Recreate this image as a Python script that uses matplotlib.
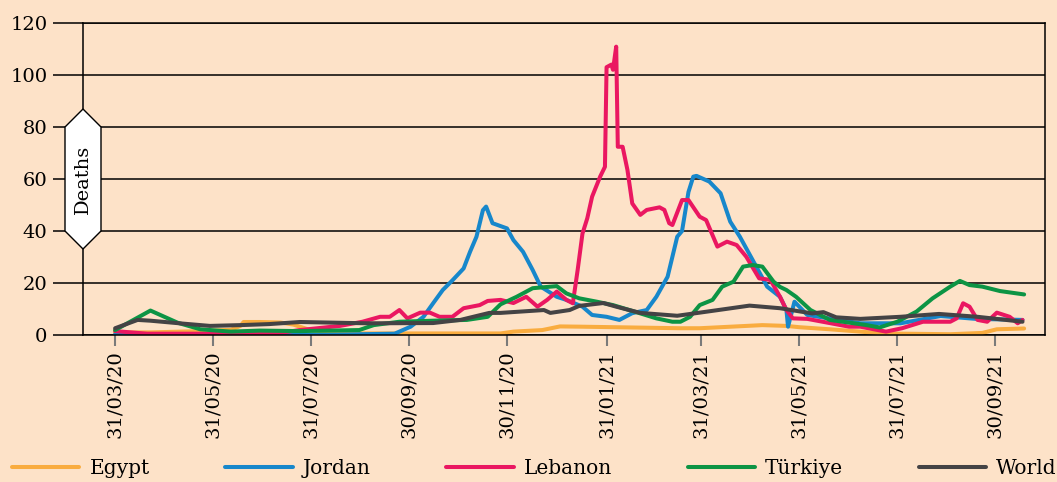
import numpy as np
import matplotlib
matplotlib.use("Agg")
import matplotlib.pyplot as plt
import matplotlib.dates as mdates
from matplotlib.patches import Polygon

plt.rcParams['font.family'] = ['DejaVu Serif']

start = np.datetime64('2020-03-31')

# days after 31/03/20 and 7-day average deaths
egypt_days = [0, 22, 53, 72, 78, 80, 90, 103, 111, 115, 121, 135, 153, 240, 248, 266, 277, 290,
              352, 364, 403, 418, 426, 445, 464, 478, 520, 540, 549, 566]
egypt_vals = [1.0, 1.0, 1.5, 2.0, 3.5, 5.0, 5.0, 4.8, 4.0, 3.2, 2.0, 1.0, 0.6, 0.6, 1.3, 1.9, 3.3, 3.2,
              2.6, 2.6, 3.8, 3.5, 3.0, 2.2, 1.3, 0.6, 0.3, 0.8, 2.2, 2.5]

jordan_days = [0, 60, 120, 174, 177, 184, 192, 198, 204, 210, 217, 221, 225, 229, 231, 235, 244, 248,
               254, 260, 265, 275, 281, 291, 297, 306, 314, 322, 331, 337, 344, 350, 353, 357, 360,
               362, 370, 377, 383, 389, 397, 406, 414, 418, 419, 423, 431, 464, 489, 514, 536, 565]
jordan_vals = [0.3, 0.0, 0.0, 0.5, 1.3, 3.2, 7.0, 12.2, 17.3, 21.0, 25.6, 32.0, 37.8, 48.0, 49.4, 43.0,
               41.0, 36.5, 32.0, 25.0, 18.6, 14.7, 13.5, 10.9, 7.7, 7.0, 5.8, 8.4, 9.6, 14.7, 22.4, 37.8,
               40.0, 55.0, 60.9, 61.2, 59.0, 54.5, 43.6, 37.8, 28.8, 18.6, 14.7, 9.6, 3.2, 12.8, 7.7,
               4.5, 4.5, 7.3, 6.2, 5.8]

lebanon_days = [0, 20, 60, 100, 115, 140, 154, 165, 171, 177, 182, 190, 196, 202, 210, 217, 227, 232,
                240, 248, 256, 263, 269, 275, 281, 285, 288, 291, 294, 297, 302, 305, 306, 309, 310,
                312, 313, 316, 319, 322, 327, 331, 339, 342, 345, 347, 353, 357, 364, 368, 375, 381,
                387, 393, 401, 408, 414, 418, 422, 431, 457, 464, 480, 490, 503, 520, 524, 528, 532,
                537, 543, 549, 557, 562, 565]
lebanon_vals = [1.5, 0.5, 0.5, 0.6, 1.9, 3.5, 5.1, 7.0, 7.0, 9.6, 6.4, 8.6, 8.6, 7.0, 7.0, 10.3, 11.5,
                13.1, 13.5, 12.3, 14.7, 10.9, 13.5, 16.7, 13.5, 12.2, 25.0, 39.0, 44.9, 53.2, 60.9,
                64.7, 103.0, 104.0, 102.0, 110.9, 72.4, 72.4, 63.5, 50.6, 46.2, 48.1, 49.1, 48.1,
                43.0, 42.3, 51.9, 51.9, 45.5, 44.2, 34.0, 35.9, 34.6, 30.1, 21.8, 21.2, 14.7, 9.6,
                6.4, 6.2, 3.2, 3.2, 1.3, 2.6, 5.1, 5.1, 6.4, 12.2, 10.9, 5.8, 5.1, 8.6, 7.0, 4.5, 5.8]

turkey_days = [0, 22, 39, 53, 72, 90, 115, 152, 161, 177, 198, 219, 232, 240, 250, 260, 275, 281, 289,
               300, 310, 325, 337, 347, 352, 358, 364, 372, 378, 385, 391, 397, 403, 410, 414, 418,
               424, 433, 445, 468, 476, 487, 499, 509, 520, 526, 532, 540, 551, 566]
turkey_vals = [1.9, 9.4, 4.7, 2.2, 1.3, 1.7, 1.5, 1.9, 3.8, 5.1, 5.5, 5.8, 7.0, 11.8, 14.7, 18.0, 18.8,
               16.0, 14.1, 12.8, 11.5, 8.7, 6.4, 5.1, 5.1, 7.0, 11.5, 13.5, 18.6, 20.5, 26.3, 26.9,
               26.3, 20.5, 18.5, 17.3, 14.7, 9.6, 5.8, 3.8, 2.9, 5.1, 9.0, 14.1, 18.6, 20.8, 19.2,
               18.6, 16.9, 15.6]

world_days = [0, 14, 22, 40, 59, 78, 96, 115, 157, 198, 215, 233, 240, 267, 271, 283, 289, 304, 312,
              327, 350, 364, 379, 395, 414, 434, 441, 449, 464, 489, 513, 537, 565]
world_vals = [2.6, 5.8, 5.5, 4.5, 3.5, 3.8, 4.2, 5.0, 4.5, 4.6, 5.8, 8.5, 8.5, 9.6, 8.5, 9.6, 11.2,
              12.3, 10.9, 8.5, 7.4, 8.6, 9.9, 11.3, 10.3, 8.3, 8.8, 6.8, 6.2, 7.0, 8.1, 7.0, 5.1]

tick_dates = ['2020-03-31', '2020-05-31', '2020-07-31', '2020-09-30', '2020-11-30',
              '2021-01-31', '2021-03-31', '2021-05-31', '2021-07-31', '2021-09-30']

series = [
    ('Egypt', egypt_days, egypt_vals, '#f9ac3f'),
    ('Jordan', jordan_days, jordan_vals, '#1787cb'),
    ('Lebanon', lebanon_days, lebanon_vals, '#ea1761'),
    ('Türkiye', turkey_days, turkey_vals, '#0c9444'),
    ('World', world_days, world_vals, '#444345'),
]

bg = '#fde2c8'
fig = plt.figure(figsize=(10.57, 4.82), dpi=100, facecolor=bg)
ax = fig.add_axes([83 / 1057, 1 - 335 / 482, (1045 - 83) / 1057, (335 - 23) / 482])
ax.set_facecolor(bg)

handles = []
for name, days, vals, col in series:
    x = start + np.array(days).astype('timedelta64[D]')
    ln, = ax.plot(x, vals, color=col, lw=2.9, solid_capstyle='round', label=name)
    handles.append(ln)

ax.set_ylim(0, 120)
ax.set_yticks(range(0, 121, 20))
ax.set_xlim(start - np.timedelta64(20, 'D'), start + np.timedelta64(579, 'D'))
ax.set_xticks([np.datetime64(d) for d in tick_dates])
ax.xaxis.set_major_formatter(mdates.DateFormatter('%d/%m/%y'))

ax.set_axisbelow(True)
ax.yaxis.grid(True, color='black', lw=1.1)
for s in ax.spines.values():
    s.set_color('black')
    s.set_linewidth(1.1)

ax.tick_params(axis='y', length=21.6, width=1.1, pad=4, labelsize=14, colors='black')
ax.tick_params(axis='x', length=8, width=1.5, color='#7a7a7a', pad=3, labelsize=14,
               labelrotation=90)
for lab in ax.get_xticklabels():
    lab.set_ha('center')

# "Deaths" badge on the y axis
pts = [(83, 109), (101, 127), (101, 231), (83, 249), (65, 231), (65, 127)]
poly = Polygon([(px / 1057, 1 - py / 482) for px, py in pts], closed=True,
               transform=fig.transFigure, facecolor='white', edgecolor='black', lw=1,
               zorder=10, clip_on=False)
fig.patches.append(poly)
fig.text(83 / 1057, 1 - 179 / 482, 'Deaths', rotation=90, ha='center', va='center',
         fontsize=14, zorder=11)

fig.legend(handles, [s[0] for s in series], loc='center left',
           bbox_to_anchor=(12 / 1057, 1 - 469 / 482),
           ncol=5, frameon=False, fontsize=14.5, handlelength=3.35, handletextpad=0.5,
           columnspacing=3.75, borderaxespad=0, borderpad=0)

fig.savefig('out.png', dpi=100, facecolor=bg)
